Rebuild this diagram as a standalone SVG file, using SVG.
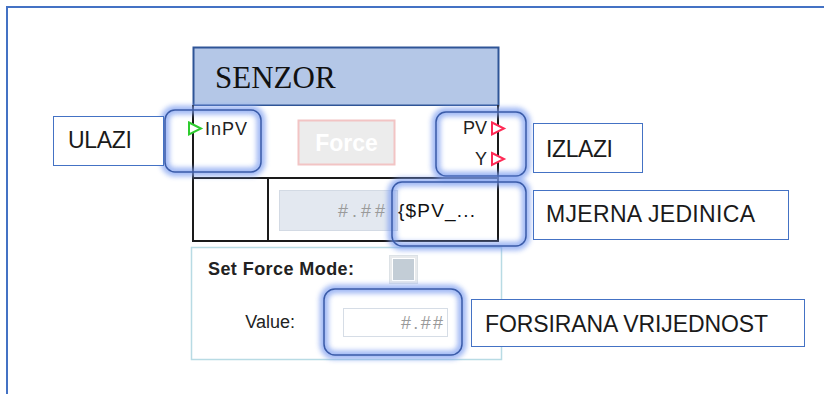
<svg xmlns="http://www.w3.org/2000/svg" width="824" height="394" viewBox="0 0 824 394">
<defs>
<style>
.frame{fill:none;stroke:#4472c4;stroke-width:2}
.lbl{fill:#fff;stroke:#4472c4;stroke-width:1}
.lt{font-family:"Liberation Sans",Arial,sans-serif;font-size:23px;fill:#1a1a1a}
.w{font-family:"Liberation Sans",Arial,sans-serif;font-size:18px;fill:#222}
.ln{stroke:#1a1a1a;stroke-width:2;fill:none}
.glow{fill:none;stroke:#7a9cf0;stroke-width:9;opacity:0.7;filter:url(#blur)}
.hl{fill:none;stroke:#3a5ba8;stroke-width:1.5}
.gray{font-family:"Liberation Sans",Arial,sans-serif;font-size:18px;fill:#9a9a9a}
</style>
<filter id="blur" x="-20%" y="-20%" width="140%" height="140%"><feGaussianBlur stdDeviation="2.5"/></filter>
</defs>
<rect width="824" height="394" fill="#fff"/>
<path class="frame" d="M7 394 V7 H824"/>

<g id="senzor">
<rect x="193.5" y="47.5" width="305" height="58" fill="#b4c7e7" stroke="#2f5597" stroke-width="2"/>
<text x="215" y="88" font-family="'Liberation Serif','Times New Roman',serif" font-size="31" fill="#111">SENZOR</text>
<rect x="193" y="106" width="305" height="135" fill="#fff"/>
<path class="ln" d="M193 105 V241 H498 V105 M193 178 H498 M268 178 V241"/>
</g>

<g id="force-button">
<rect x="298.5" y="120.5" width="96" height="44" fill="#ececec" stroke="#f2c4c4" stroke-width="2"/>
<text x="346.5" y="151" text-anchor="middle" font-family="'Liberation Sans',Arial,sans-serif" font-size="23" font-weight="bold" fill="#fff">Force</text>
</g>

<g id="inputs">
<path d="M189 122.5 L201 128.5 L189 134.5 Z" fill="#fff" stroke="#2ecc2e" stroke-width="2"/>
<text class="w" x="205" y="135" textLength="42">InPV</text>
</g>

<g id="outputs">
<text class="w" x="487" y="134" text-anchor="end">PV</text>
<path d="M492 122.5 L504 128.5 L492 134.5 Z" fill="#fff" stroke="#ff2a55" stroke-width="2"/>
<text class="w" x="487" y="165" text-anchor="end">Y</text>
<path d="M492 153 L504 159 L492 165 Z" fill="#fff" stroke="#ff2a55" stroke-width="2"/>
</g>

<g id="value-field">
<rect x="279.5" y="190.5" width="118" height="40" fill="#e3e8f0" stroke="#d3dae4" stroke-width="1"/>
<text class="gray" x="385" y="217" text-anchor="end" textLength="47">#.##</text>
<text x="398" y="217" font-family="'Liberation Sans',Arial,sans-serif" font-size="19" fill="#111" textLength="77">{$PV_...</text>
</g>

<g id="force-panel">
<rect x="191.5" y="247.5" width="310" height="112" fill="#fff" stroke="#b8dbe4" stroke-width="1.5"/>
<text class="w" x="208" y="275" font-weight="bold" textLength="146">Set Force Mode:</text>
<rect x="389.5" y="255.5" width="28" height="28" fill="#e8eaec" stroke="#dde2e6"/>
<rect x="392.5" y="258.5" width="22" height="22" fill="#c3cdd6" stroke="#fff" stroke-width="1"/>
<text class="w" x="295" y="328" text-anchor="end" font-size="17">Value:</text>
<rect x="343.5" y="308.5" width="104" height="28" fill="#fff" stroke="#d6dde6"/>
<text class="gray" x="443" y="329" text-anchor="end" textLength="42" font-size="17">#.##</text>
</g>

<g id="highlights">
<rect class="glow" x="165" y="110" width="96" height="62" rx="10"/>
<rect class="hl" x="165" y="110" width="96" height="62" rx="10"/>
<rect class="glow" x="436" y="112" width="90" height="64" rx="10"/>
<rect class="hl" x="436" y="112" width="90" height="64" rx="10"/>
<rect class="glow" x="392" y="182" width="134" height="64" rx="10"/>
<rect class="hl" x="392" y="182" width="134" height="64" rx="10"/>
<rect class="glow" x="324" y="289" width="138" height="66" rx="11"/>
<rect class="hl" x="324" y="289" width="138" height="66" rx="11"/>
</g>

<g id="ulazi">
<rect class="lbl" x="53.5" y="116.5" width="110" height="49"/>
<text class="lt" x="68" y="148" textLength="64">ULAZI</text>
</g>
<g id="izlazi">
<rect class="lbl" x="533.5" y="123.5" width="109" height="49"/>
<text class="lt" x="546" y="157" textLength="67">IZLAZI</text>
</g>
<g id="mjerna">
<rect class="lbl" x="533.5" y="190.5" width="255" height="49"/>
<text class="lt" x="546" y="222" textLength="209">MJERNA JEDINICA</text>
</g>
<g id="forsirana">
<rect class="lbl" x="471.5" y="299.5" width="333" height="47"/>
<text class="lt" x="485" y="332" textLength="283">FORSIRANA VRIJEDNOST</text>
</g>
</svg>
